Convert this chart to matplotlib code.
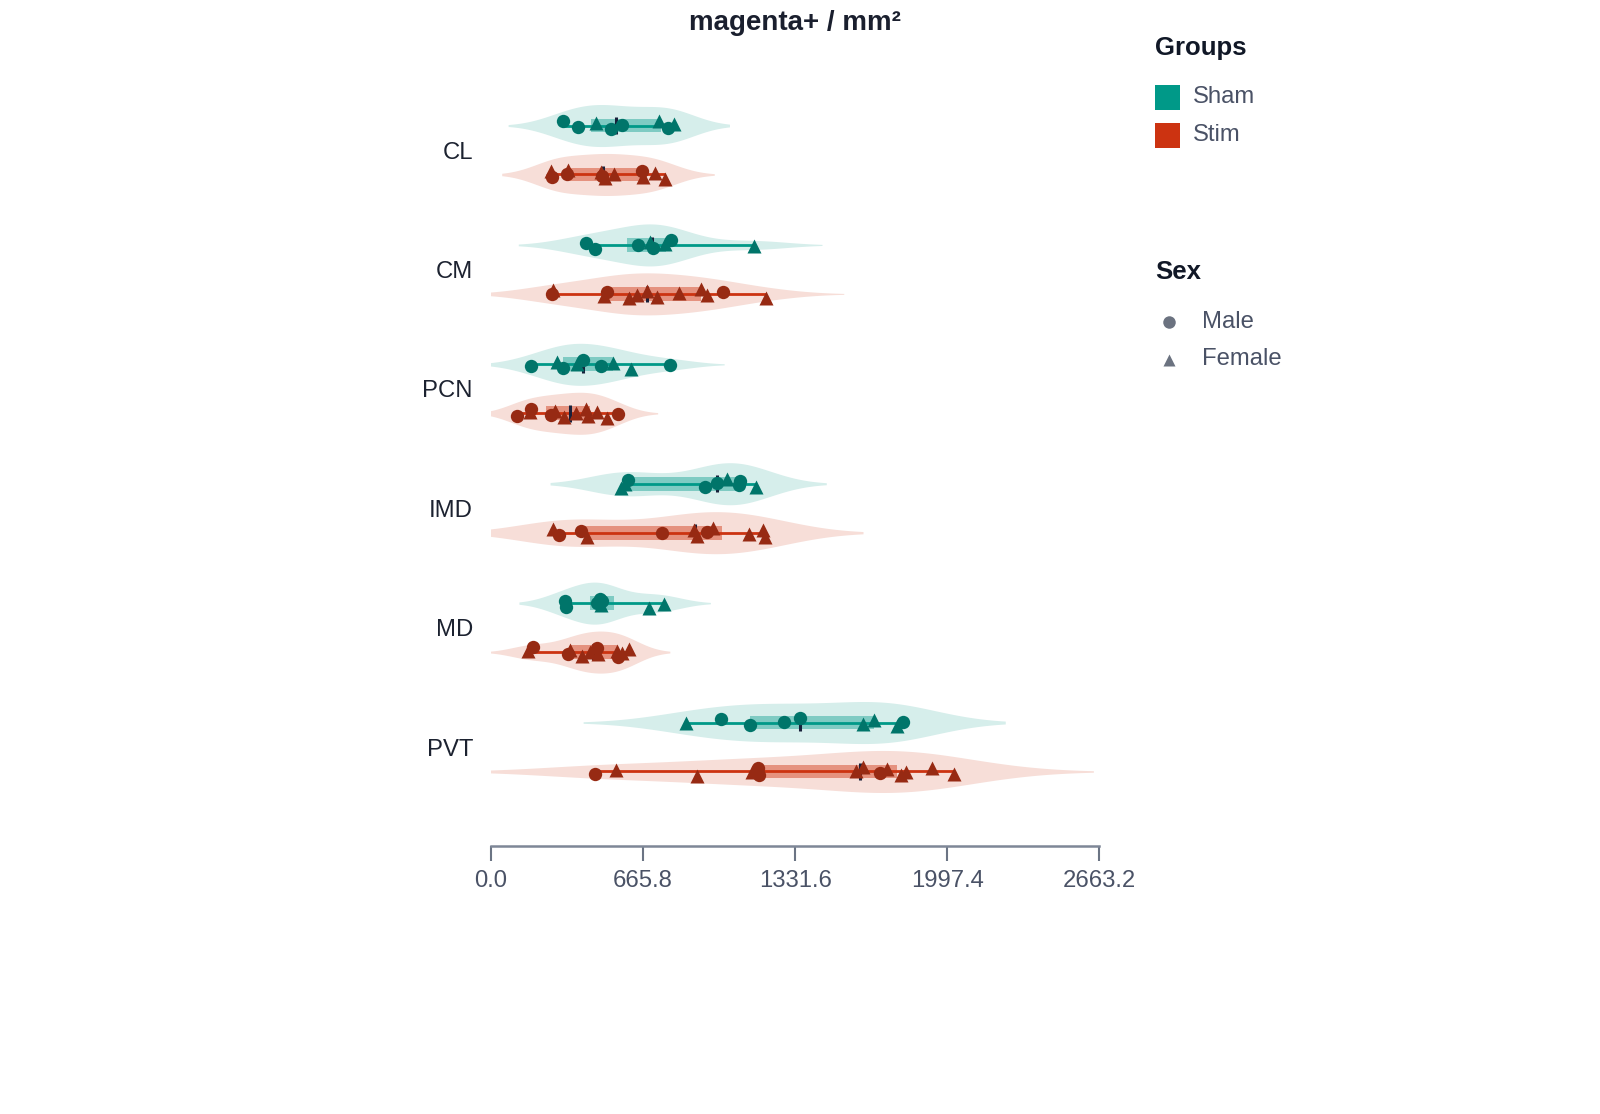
import numpy as np
import matplotlib
matplotlib.use("Agg")
import matplotlib.pyplot as plt
from matplotlib.patches import Rectangle

plt.rcParams['font.family'] = ['Liberation Sans', 'DejaVu Sans']

regions = ["CL", "CM", "PCN", "IMD", "MD", "PVT"]
groups = ["Sham", "Stim"]

# magenta+ cells per mm2, one value per animal (M = male, F = female)
cl_sham = [316.5, 379.6, 458.4, 524.0, 574.8, 735.5, 776.2, 802.5]
cl_sham_sex = ["M", "M", "F", "M", "M", "F", "M", "F"]
cl_stim = [262.7, 265.7, 334.0, 336.0, 484.6, 482.0, 499.1, 539.8, 659.8, 664.1, 718.0, 761.8]
cl_stim_sex = ["F", "M", "M", "F", "M", "F", "F", "F", "M", "F", "F", "F"]

cm_sham = [415.9, 455.3, 644.9, 696.1, 710.5, 761.8, 786.7, 1152.7]
cm_sham_sex = ["M", "M", "M", "F", "M", "F", "M", "F"]
cm_stim = [268.4, 273.6, 494.7, 506.5, 604.2, 637.9, 681.7, 725.4, 824.4, 918.1, 944.3, 1014.4, 1204.0]
cm_stim_sex = ["M", "F", "F", "M", "F", "F", "F", "F", "F", "F", "F", "M", "F"]

pcn_sham = [175.1, 290.3, 313.9, 375.2, 404.1, 481.6, 532.8, 611.6, 783.7]
pcn_sham_sex = ["M", "F", "M", "F", "M", "M", "F", "F", "M"]
pcn_stim = [112.5, 170.7, 175.1, 262.7, 280.2, 320.9, 372.1, 415.9, 423.4, 462.8, 509.2, 554.7]
pcn_stim_sex = ["M", "F", "M", "M", "F", "F", "F", "F", "F", "F", "F", "M"]

imd_sham = [567.8, 586.7, 601.1, 938.2, 990.7, 1031.9, 1084.4, 1090.1, 1158.8]
imd_sham_sex = ["F", "F", "M", "M", "M", "F", "M", "M", "F"]
imd_stim = [272.7, 299.0, 392.7, 419.0, 747.3, 888.7, 900.5, 947.0, 973.2, 1130.8, 1192.1, 1199.6]
imd_stim_sex = ["F", "M", "M", "F", "M", "F", "F", "M", "F", "F", "F", "F"]

md_sham = [324.0, 328.0, 466.0, 478.0, 482.0, 486.0, 693.0, 758.7]
md_sham_sex = ["M", "M", "M", "M", "F", "M", "F", "F"]
md_stim = [163.3, 185.2, 338.4, 345.9, 397.1, 433.4, 462.8, 469.8, 550.3, 557.3, 572.2, 604.2]
md_stim_sex = ["F", "M", "M", "F", "F", "F", "M", "F", "F", "M", "F", "F"]

pvt_sham = [852.4, 1005.6, 1133.9, 1282.8, 1352.8, 1629.9, 1676.8, 1776.2, 1802.4]
pvt_sham_sex = ["F", "M", "M", "M", "M", "F", "F", "F", "M"]
pvt_stim = [455.3, 547.3, 903.2, 1141.3, 1168.0, 1172.0, 1598.0, 1629.9, 1703.0, 1735.0,
            1793.7, 1816.9, 1932.0, 2027.0]
pvt_stim_sex = ["M", "F", "F", "F", "M", "M", "F", "F", "M", "F", "F", "F", "F", "F"]

x_ticks = [0.0, 665.8, 1331.6, 1997.4, 2663.2]

data = {
    "CL": [(cl_sham, cl_sham_sex), (cl_stim, cl_stim_sex)],
    "CM": [(cm_sham, cm_sham_sex), (cm_stim, cm_stim_sex)],
    "PCN": [(pcn_sham, pcn_sham_sex), (pcn_stim, pcn_stim_sex)],
    "IMD": [(imd_sham, imd_sham_sex), (imd_stim, imd_stim_sex)],
    "MD": [(md_sham, md_sham_sex), (md_stim, md_stim_sex)],
    "PVT": [(pvt_sham, pvt_sham_sex), (pvt_stim, pvt_stim_sex)],
}

main_col = ["#009988", "#cc3311"]
violin_col = ["#d6eeeb", "#f7ded8"]
box_col = ["#7fcbc3", "#e5927f"]
point_col = ["#00756a", "#972a13"]
median_col = "#18203a"

W, H, DPI = 1600, 1114, 100


def kde_curve(vals):
    # gaussian kde, Silverman-style bandwidth from the spread, span +-2 bandwidths
    v = np.asarray(vals, float)
    bw = 1.059 * v.std() * len(v) ** -0.2
    grid = np.linspace(v.min() - 2 * bw, v.max() + 2 * bw, 300)
    dens = np.exp(-0.5 * ((grid[:, None] - v[None, :]) / bw) ** 2).sum(axis=1)
    return grid, dens / dens.max()


fig = plt.figure(figsize=(W / DPI, H / DPI), dpi=DPI)

# plot area in pixels: x 491..1099, category band 90..807
ax = fig.add_axes([491 / W, 1 - 806.7 / H, 608.3 / W, 716.4 / H])
for s in ["left", "right", "top"]:
    ax.spines[s].set_visible(False)
ax.spines["bottom"].set_position(("outward", 28.3))
ax.spines["bottom"].set_color("#7e8797")
ax.spines["bottom"].set_linewidth(1.8)
ax.patch.set_alpha(0)

ax.set_xlim(0, 2663.2)
ax.set_ylim(5.5, -0.5)

offset = 0.205
half_w = 0.176
box_h = 0.058
tick_h = 0.07
jit = 0.042

for i, reg in enumerate(regions):
    for g, (vals, sex) in enumerate(data[reg]):
        yc = i - offset if g == 0 else i + offset
        v = np.asarray(vals, float)
        grid, dens = kde_curve(v)
        ax.fill_between(grid, yc - dens * half_w, yc + dens * half_w,
                        color=violin_col[g], lw=0, zorder=1)
        q1, med, q3 = np.percentile(v, [25, 50, 75])
        ax.add_patch(Rectangle((q1, yc - box_h), q3 - q1, 2 * box_h,
                               facecolor=box_col[g], edgecolor="none", zorder=2))
        ax.plot([v.min(), v.max()], [yc, yc], color=main_col[g], lw=2.0,
                solid_capstyle="butt", zorder=3)
        ax.plot([med, med], [yc - tick_h, yc + tick_h], color=median_col, lw=2.2,
                solid_capstyle="butt", zorder=4)
        n = len(v)
        dy = (((np.arange(n) * 0.618 + 0.31 * i + 0.17 * g) % 1.0) - 0.5) * 2 * jit
        sx = np.array(sex)
        m = sx == "M"
        ax.plot(v[m], yc + dy[m], "o", ms=9.6, color=point_col[g], mec="none", zorder=5)
        ax.plot(v[~m], yc + dy[~m], "^", ms=10, color=point_col[g], mec="none", zorder=5)

ax.set_yticks(range(len(regions)))
ax.set_yticklabels(regions, fontsize=17.2, color="#1c2230")
ax.tick_params(axis="y", length=0, pad=13)

ax.set_xticks(x_ticks)
ax.set_xticklabels(["%.1f" % t for t in x_ticks], fontsize=17.2, color="#4a5266")
ax.tick_params(axis="x", direction="out", length=10.5, width=1.5, color="#6b7484", pad=7)

# title
fig.text(795 / W, 1 - 22.5 / H, "magenta+ / mm²", ha="center", va="center",
         fontsize=20, fontweight="bold", color="#1a1f2e")

# legends drawn on an overlay in pixel coordinates
lg = fig.add_axes([0, 0, 1, 1])
lg.set_xlim(0, W)
lg.set_ylim(H, 0)
lg.axis("off")

lg.text(1155, 48, "Groups", fontsize=18.5, fontweight="bold", color="#111827", va="center")
for k, name in enumerate(groups):
    yy = 97 + k * 38
    lg.add_patch(Rectangle((1155, yy - 12.5), 25, 25, facecolor=main_col[k], edgecolor="none"))
    lg.text(1193, yy, name, fontsize=17.2, color="#4a5266", va="center")

lg.text(1155, 272, "Sex", fontsize=18.5, fontweight="bold", color="#111827", va="center")
lg.plot([1169], [322], "o", ms=9, color="#6b7280", mec="none")
lg.plot([1169], [360], "^", ms=8, color="#6b7280", mec="none")
lg.text(1202, 322, "Male", fontsize=17.2, color="#4a5266", va="center")
lg.text(1202, 359, "Female", fontsize=17.2, color="#4a5266", va="center")

fig.savefig("out.png", dpi=DPI)
